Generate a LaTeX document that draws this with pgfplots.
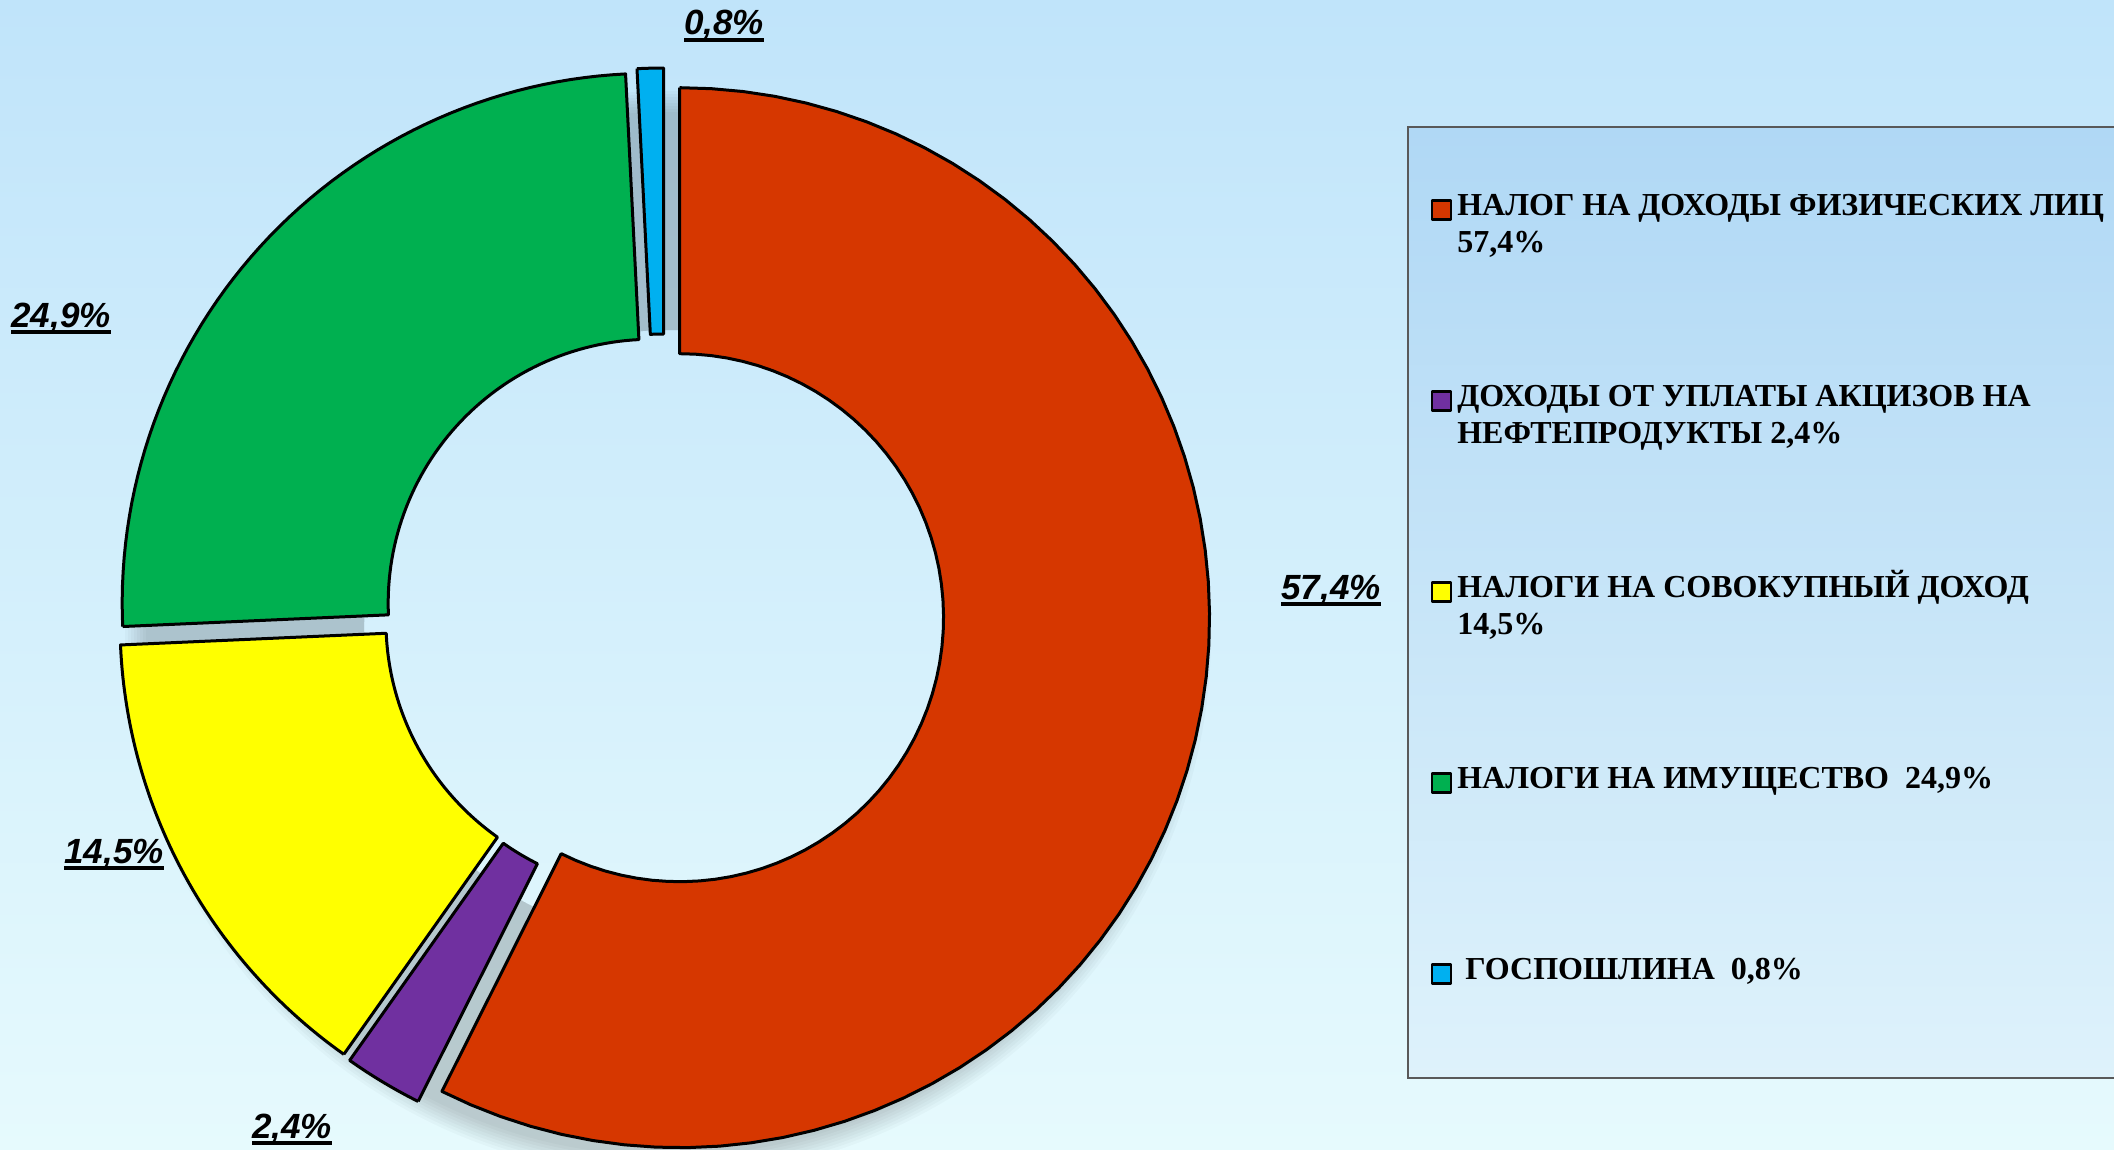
\documentclass[border=0pt]{standalone}
\usepackage{pgfplots}
\pgfplotsset{compat=1.18}
\usepackage{fontspec}
\setmainfont{Liberation Serif}
\newfontfamily\labfont{Liberation Sans}
\newfontfamily\legfont{Liberation Serif}
\definecolor{cRed}{RGB}{214,55,0}
\definecolor{cPurple}{RGB}{112,48,160}
\definecolor{cYellow}{RGB}{255,255,0}
\definecolor{cGreen}{RGB}{0,176,80}
\definecolor{cBlue}{RGB}{0,176,240}
\definecolor{bgTop}{RGB}{192,228,250}
\definecolor{bgBot}{RGB}{230,250,253}
\definecolor{lgTop}{RGB}{176,216,245}
\definecolor{lgBot}{RGB}{222,242,251}
% geometry (pixel units of the reference)
\def\Cx{664}\def\Cy{614}\def\Ro{530}\def\Ri{264}\def\Dx{16}
% data (percent)
\def\vA{57.4}\def\vB{2.4}\def\vC{14.5}\def\vD{24.9}\def\vE{0.8}
\pgfmathsetmacro\aA{90}
\pgfmathsetmacro\bA{\aA-3.6*\vA}
\pgfmathsetmacro\bB{\bA-3.6*\vB}
\pgfmathsetmacro\bC{\bB-3.6*\vC}
\pgfmathsetmacro\bD{\bC-3.6*\vD}
\pgfmathsetmacro\bE{\bD-3.6*\vE}
\newcommand\ul[1]{\setbox0\hbox{#1}\rlap{\vrule height -0.8pt depth 2.2pt width \wd0}\box0}
\newcommand\sector[3]{%
 \addplot[fill=#3, draw=black, line width=0.9pt, line join=round, domain=0:4, samples=241, variable=\t]
   ({\Cx + \Dx*cos((#1+#2)/2) + radf(\t)*cos(angf(\t,#1,#2))},
    {\Cy - \Dx*sin((#1+#2)/2) - radf(\t)*sin(angf(\t,#1,#2))});
}
\begin{document}
\begin{tikzpicture}[declare function={
 angf(\t,\p,\q)=(\t<1)?(\p+(\q-\p)*\t):((\t<2)?(\q):((\t<3)?(\q+(\p-\q)*(\t-2)):(\p)));
 radf(\t)=(\t<1)?(\Ro):((\t<2)?(\Ro+(\Ri-\Ro)*(\t-1)):((\t<3)?(\Ri):(\Ri+(\Ro-\Ri)*(\t-3))));
}]
\begin{axis}[scale only axis, width=634.2pt, height=345pt,
  xmin=0, xmax=2114, ymin=0, ymax=1150, y dir=reverse, hide axis,
  legend image code/.code={\draw[#1,draw=black,line width=0.7pt] (0pt,0pt) rectangle (5.8pt,5.7pt);},
  legend cell align=left,
  legend style={at={(axis cs:1430,181)}, anchor=north west, draw=none, fill=none, inner sep=0pt,
    row sep=34.6pt, column sep=1.5pt,
    nodes={inner sep=0pt, align=left},
    font={\legfont\bfseries\fontsize{9.6}{11.2}\selectfont}},
]
\shade[top color=bgTop, bottom color=bgBot] (axis cs:0,0) rectangle (axis cs:2114,1150);
\shade[top color=lgTop, bottom color=lgBot] (axis cs:1408,127) rectangle (axis cs:2114,1078);
\draw[line width=0.6pt, draw=black!65] (axis cs:2114,127) -- (axis cs:1408,127) -- (axis cs:1408,1078) -- (axis cs:2114,1078);
\pgfplotsinvokeforeach{0,...,7}{
  \fill[black, opacity=0.022, even odd rule] (axis cs:668,634) circle[radius=\Ro+3*#1-8] (axis cs:668,634) circle[radius=\Ri+40];
}
\sector{\aA}{\bA}{cRed}
\addlegendentry{\rule{0pt}{10pt}НАЛОГ НА ДОХОДЫ ФИЗИЧЕСКИХ ЛИЦ\\57,4\%\rule[-4pt]{0pt}{4pt}}
\sector{\bA}{\bB}{cPurple}
\addlegendentry{\rule{0pt}{10pt}ДОХОДЫ ОТ УПЛАТЫ АКЦИЗОВ НА\\НЕФТЕПРОДУКТЫ 2,4\%\rule[-4pt]{0pt}{4pt}}
\sector{\bB}{\bC}{cYellow}
\addlegendentry{\rule{0pt}{10pt}НАЛОГИ НА СОВОКУПНЫЙ ДОХОД\\14,5\%\rule[-4pt]{0pt}{4pt}}
\sector{\bC}{\bD}{cGreen}
\addlegendentry{\rule{0pt}{10pt}НАЛОГИ НА ИМУЩЕСТВО\ \ 24,9\%\\\rule[-4pt]{0pt}{4pt}}
\sector{\bD}{\bE}{cBlue}
\addlegendentry{\rule{0pt}{10pt}\ ГОСПОШЛИНА\ \ 0,8\%\\\rule[-4pt]{0pt}{4pt}}
\begin{scope}[font={\labfont\bfseries\itshape\fontsize{10.5}{12}\selectfont}]
\node[anchor=base] at (axis cs:724,35) {\ul{0,8\%}};
\node[anchor=base] at (axis cs:61,327) {\ul{24,9\%}};
\node[anchor=base] at (axis cs:1331,599) {\ul{57,4\%}};
\node[anchor=base] at (axis cs:114,863) {\ul{14,5\%}};
\node[anchor=base] at (axis cs:292,1138) {\ul{2,4\%}};
\end{scope}
\end{axis}
\end{tikzpicture}
\end{document}
